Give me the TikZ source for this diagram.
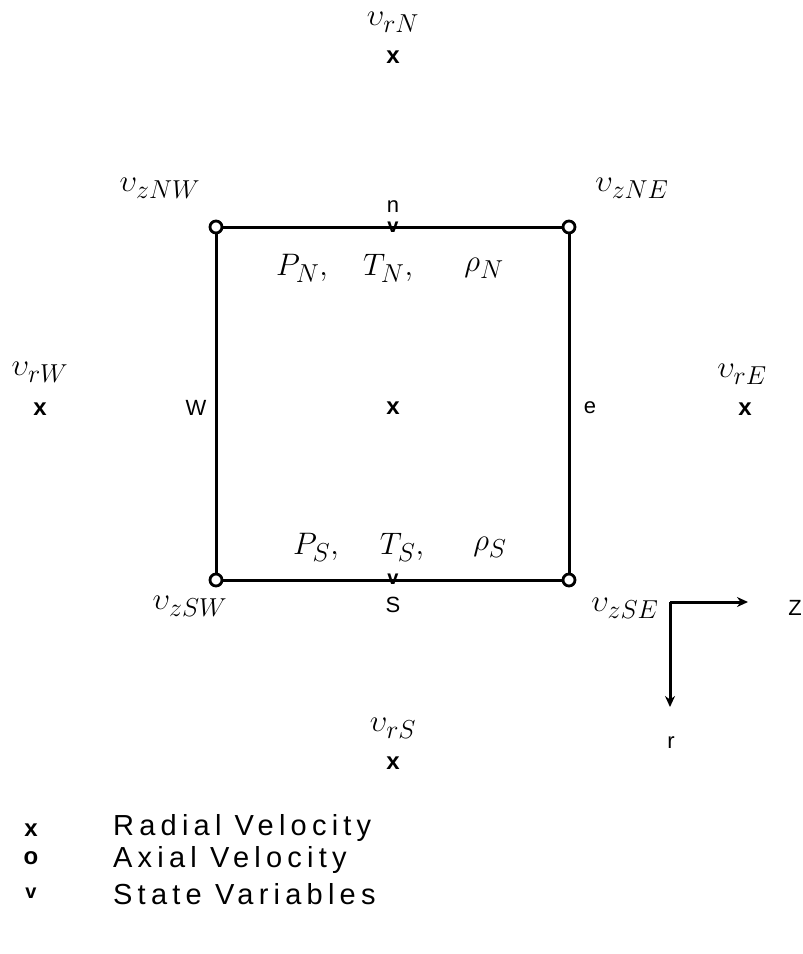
\documentclass[tikz,border=0pt]{standalone}
\usepackage{fontspec}
\setmainfont{Liberation Sans}
\usetikzlibrary{arrows.meta}
\newcommand\mlab[1]{\scalebox{1.25}{$#1$}}
\begin{document}
\begin{tikzpicture}[x=1pt,y=-1pt,
  edge/.style={line width=3pt},
  corner/.style={circle,draw,line width=2.8pt,fill=white,minimum size=12pt,inner sep=0pt},
  mlabel/.style={font=\fontsize{24.88}{30}\selectfont,inner sep=0pt},
  slabel/.style={font=\fontsize{22}{26}\selectfont,inner sep=0pt},
  xmark/.style={font=\fontsize{24}{28}\selectfont\bfseries,inner sep=0pt},
  vmark/.style={font=\fontsize{20}{24}\selectfont\bfseries,inner sep=0pt},
  legtext/.style={font=\fontsize{29}{34}\selectfont\addfontfeatures{LetterSpace=18},anchor=west,inner sep=0pt},
  axis/.style={line width=3pt,-{Stealth[length=11pt,width=10pt]}}
]
\useasboundingbox (0,0) rectangle (803,954);

% box corners
\coordinate (nw) at (216,227);
\coordinate (ne) at (569,227);
\coordinate (sw) at (216,580);
\coordinate (se) at (569,580);
\draw[edge] (nw) -- (ne) -- (se) -- (sw) -- cycle;
\node[corner] (cnw) at (nw) {};
\node[corner] (cne) at (ne) {};
\node[corner] (csw) at (sw) {};
\node[corner] (cse) at (se) {};

% state variable markers
\node[vmark,anchor=south] (vn) at (393,233) {v};
\node[slabel] (ln) at (393,207) {n};
\node[vmark,anchor=south] (vs) at (393,585) {v};
\node[slabel] (ls) at (393,605) {S};

% state labels
\node[mlabel] (pn) at (302,268) {\mlab{P_{N},}};
\node[mlabel] (tn) at (388,268) {\mlab{T_{N},}};
\node[mlabel] (rn) at (484,268) {\mlab{\rho_{N}}};
\node[mlabel] (ps) at (316,547) {\mlab{P_{S},}};
\node[mlabel] (ts) at (402,547) {\mlab{T_{S},}};
\node[mlabel] (rs) at (490,547) {\mlab{\rho_{S}}};

% centre and faces
\node[xmark] (xc) at (393,408) {x};
\node[slabel] (lw) at (196,408) {W};
\node[slabel] (le) at (590,408) {e};

% radial velocities
\node[mlabel] (urn) at (393,22) {\mlab{\upsilon_{rN}}};
\node[xmark] (xn) at (393,57) {x};
\node[mlabel] (urw) at (40,372) {\mlab{\upsilon_{rW}}};
\node[xmark] (xw) at (40,409) {x};
\node[mlabel] (ure) at (742,374) {\mlab{\upsilon_{rE}}};
\node[xmark] (xe) at (745,409) {x};
\node[mlabel] (urs) at (393,728) {\mlab{\upsilon_{rS}}};
\node[xmark] (xs) at (393,763) {x};

% axial velocities
\node[mlabel] (uznw) at (160,188) {\mlab{\upsilon_{zNW}}};
\node[mlabel] (uzne) at (632,188) {\mlab{\upsilon_{zNE}}};
\node[mlabel] (uzsw) at (190,606) {\mlab{\upsilon_{zSW}}};
\node[mlabel] (uzse) at (625,608) {\mlab{\upsilon_{zSE}}};

% axes
\coordinate (ax0) at (670,602);
\coordinate (axz) at (748,602);
\coordinate (axr) at (670,707);
\draw[axis] (ax0) -- (axz);
\draw[axis] (ax0) -- (axr);
\node[slabel] (lz) at (795,608) {Z};
\node[slabel] (lr) at (671,743) {r};

% legend
\node[xmark] (lgx) at (31,830) {x};
\node[xmark] (lgo) at (31,858) {o};
\node[vmark] (lgv) at (31,893) {v};
\node[legtext] (tx) at (113,828) {Radial Velocity};
\node[legtext] (to) at (113,860) {Axial Velocity};
\node[legtext] (tv) at (113,894) {State Variables};
\end{tikzpicture}
\end{document}
